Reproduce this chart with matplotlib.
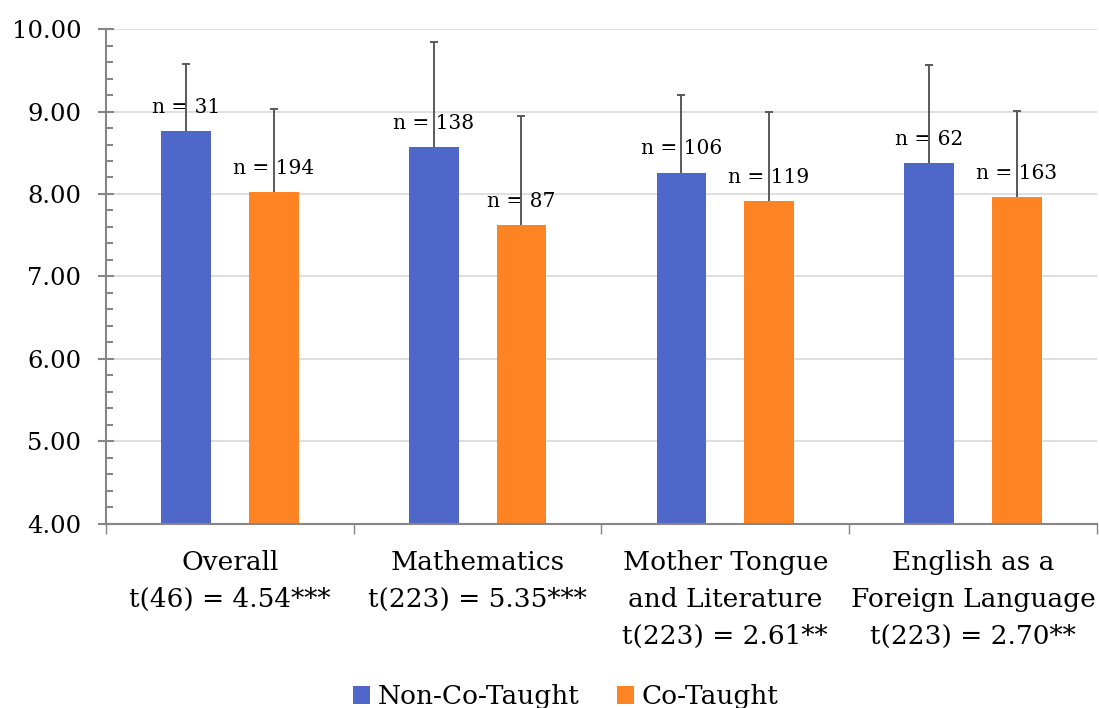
import numpy as np
import matplotlib
matplotlib.use("Agg")
import matplotlib.pyplot as plt
from matplotlib.ticker import MultipleLocator, FixedLocator

plt.rcParams['font.family'] = ['DejaVu Serif']

categories = ["Overall\nt(46) = 4.54***",
              "Mathematics\nt(223) = 5.35***",
              "Mother Tongue\nand Literature\nt(223) = 2.61**",
              "English as a\nForeign Language\nt(223) = 2.70**"]
non_cotaught = [8.76, 8.57, 8.26, 8.38]
cotaught = [8.02, 7.62, 7.92, 7.96]
sd_non = [0.82, 1.27, 0.94, 1.18]
sd_co = [1.01, 1.33, 1.08, 1.05]
n_non = [31, 138, 106, 62]
n_co = [194, 87, 119, 163]

blue = "#4F67C8"
orange = "#FE8323"

fig = plt.figure(figsize=(10.99, 7.08), dpi=100)
ax = fig.add_axes([0.0965, 0.260, 0.9015, 0.699])

x = np.arange(len(categories))
w = 0.2
off = 0.177

b1 = ax.bar(x - off, non_cotaught, w, color=blue, zorder=2, label="Non-Co-Taught")
b2 = ax.bar(x + off, cotaught, w, color=orange, zorder=2, label="Co-Taught")

# only the upper half of the error bar, like the original
lo = [0] * len(x)
for xs, ys, sd in [(x - off, non_cotaught, sd_non), (x + off, cotaught, sd_co)]:
    eb = ax.errorbar(xs, ys, yerr=[lo, sd], fmt="none", ecolor="#595959",
                     elinewidth=1.4, capsize=3.2, capthick=1.4, zorder=4)
    eb[1][0].set_visible(False)

for xi, v, n in zip(x - off, non_cotaught, n_non):
    ax.annotate("n = %d" % n, (xi, v), xytext=(0, 13), textcoords="offset points",
                ha="center", va="baseline", fontsize=14.5, zorder=3)
for xi, v, n in zip(x + off, cotaught, n_co):
    ax.annotate("n = %d" % n, (xi, v), xytext=(0, 13), textcoords="offset points",
                ha="center", va="baseline", fontsize=14.5, zorder=3)

ax.set_ylim(4, 10)
ax.set_xlim(-0.5, 3.5)
ax.yaxis.set_minor_locator(MultipleLocator(0.2))
ax.set_yticks(np.arange(4, 10.01, 1))
ax.set_yticklabels(["%.2f" % t for t in np.arange(4, 10.01, 1)], fontsize=17.5)
ax.grid(axis="y", which="major", color="#d9d9d9", linewidth=1.2, zorder=0)
ax.set_axisbelow(True)

ax.set_xticks(x)
ax.set_xticklabels(categories, fontsize=19, linespacing=1.58)
ax.xaxis.set_minor_locator(FixedLocator([-0.5, 0.5, 1.5, 2.5, 3.5]))

for s in ["top", "right"]:
    ax.spines[s].set_visible(False)
for s in ["left", "bottom"]:
    ax.spines[s].set_color("#868686")
    ax.spines[s].set_linewidth(1.5)

ax.tick_params(axis="y", which="major", direction="inout", length=11.5, width=1.5,
               color="#868686", pad=12)
ax.tick_params(axis="y", which="minor", direction="in", length=5, width=1.5, color="#868686")
ax.tick_params(axis="x", which="major", length=0, pad=19)
ax.tick_params(axis="x", which="minor", direction="out", length=7, width=1, color="#868686")

fig.legend(handles=[b1, b2], loc="lower center", bbox_to_anchor=(0.515, -0.035), ncol=2,
           frameon=False, fontsize=19, handlelength=0.65, handleheight=0.65,
           handletextpad=0.3, columnspacing=1.4)

fig.savefig("out.png", dpi=100)
